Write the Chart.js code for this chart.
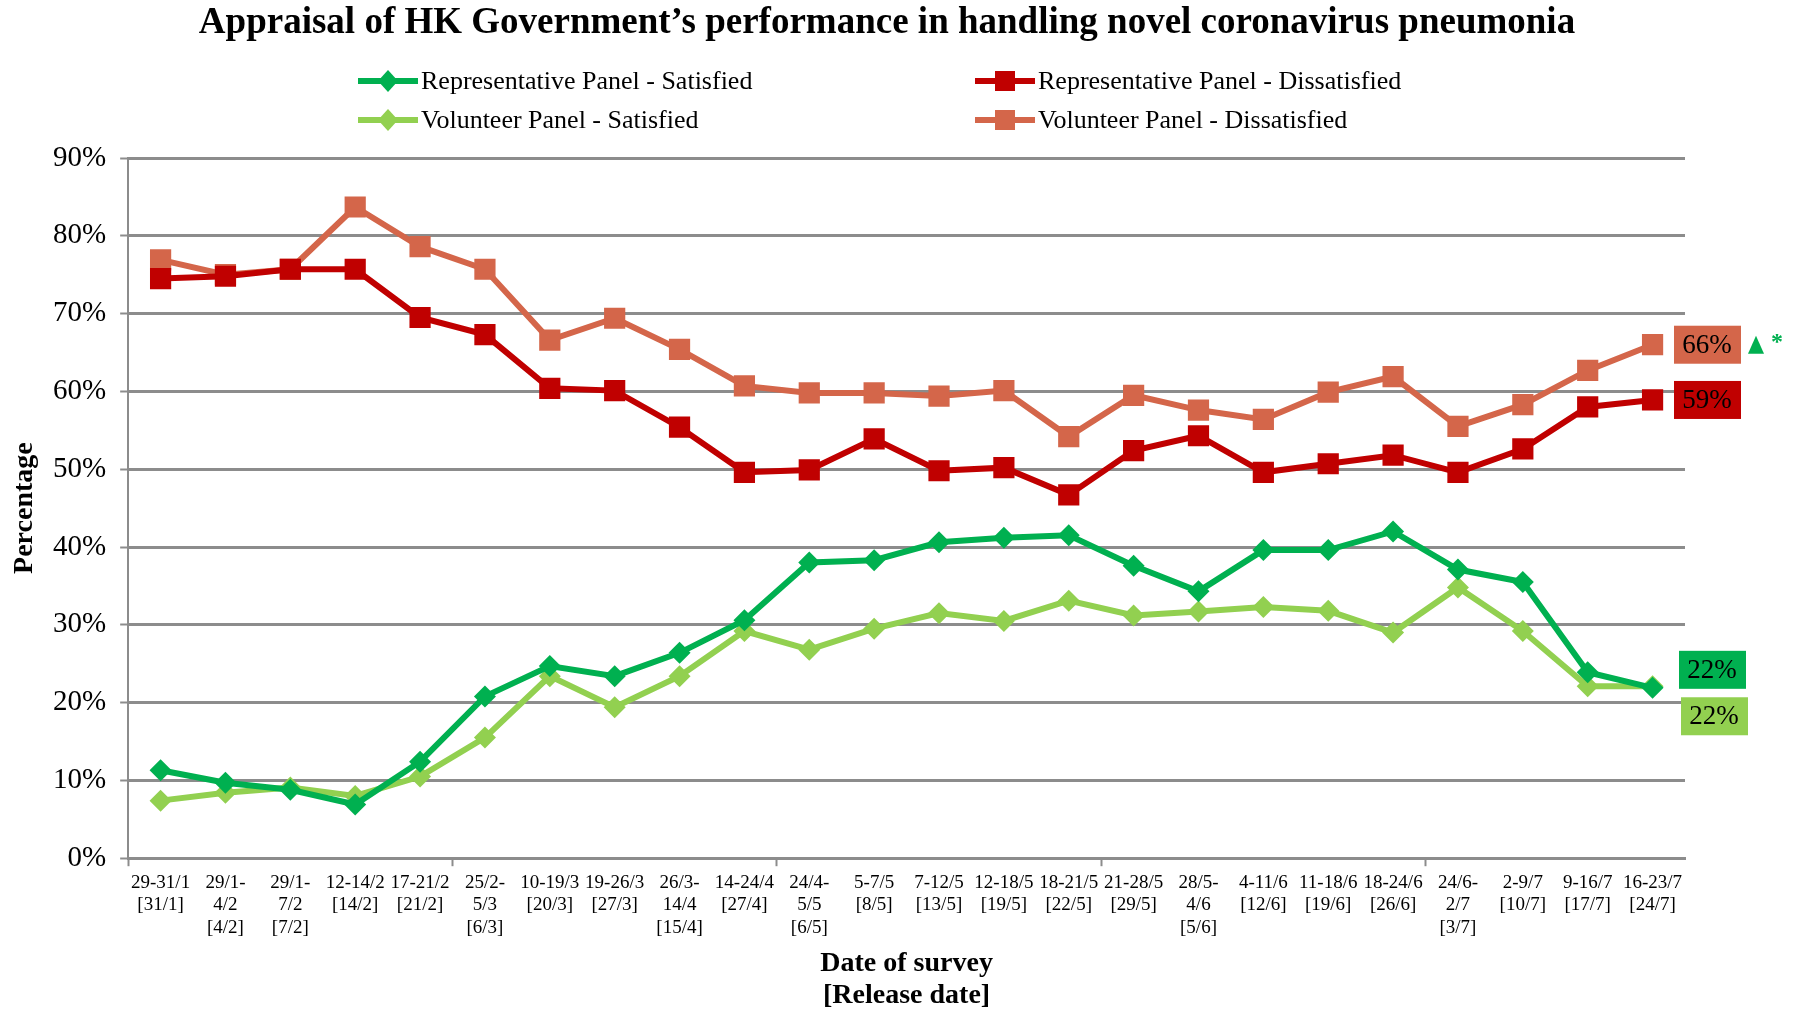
<!DOCTYPE html>
<html>
<head>
<meta charset="utf-8">
<title>Appraisal of HK Government's performance</title>
<script src="https://cdn.jsdelivr.net/npm/chart.js@4.4.0/dist/chart.umd.min.js"></script>
<style>
  html, body { margin: 0; padding: 0; background: #fff; }
  #wrap { width: 1795px; height: 1013px; position: relative; }
</style>
</head>
<body>
<div id="wrap"><canvas id="pollChart"></canvas></div>
<script>
// ── Data ────────────────────────────────────────────────────────
const dateLabels = [
  ['29-31/1', '[31/1]'], ['29/1-', '4/2', '[4/2]'], ['29/1-', '7/2', '[7/2]'],
  ['12-14/2', '[14/2]'], ['17-21/2', '[21/2]'], ['25/2-', '5/3', '[6/3]'],
  ['10-19/3', '[20/3]'], ['19-26/3', '[27/3]'], ['26/3-', '14/4', '[15/4]'],
  ['14-24/4', '[27/4]'], ['24/4-', '5/5', '[6/5]'], ['5-7/5', '[8/5]'],
  ['7-12/5', '[13/5]'], ['12-18/5', '[19/5]'], ['18-21/5', '[22/5]'],
  ['21-28/5', '[29/5]'], ['28/5-', '4/6', '[5/6]'], ['4-11/6', '[12/6]'],
  ['11-18/6', '[19/6]'], ['18-24/6', '[26/6]'], ['24/6-', '2/7', '[3/7]'],
  ['2-9/7', '[10/7]'], ['9-16/7', '[17/7]'], ['16-23/7', '[24/7]']
];

const repSatisfied    = [11.3, 9.7, 8.8, 6.9, 12.4, 20.8, 24.7, 23.4, 26.4, 30.6, 38.0, 38.3, 40.6, 41.2, 41.5, 37.6, 34.3, 39.6, 39.6, 42.0, 37.1, 35.5, 23.9, 21.9];
const volSatisfied    = [7.4, 8.4, 9.1, 8.0, 10.5, 15.5, 23.4, 19.4, 23.4, 29.2, 26.8, 29.5, 31.5, 30.5, 33.1, 31.2, 31.7, 32.3, 31.8, 29.0, 34.8, 29.2, 22.1, 22.1];
const repDissatisfied = [74.5, 74.8, 75.7, 75.7, 69.5, 67.3, 60.4, 60.1, 55.4, 49.6, 49.9, 53.9, 49.8, 50.2, 46.7, 52.4, 54.3, 49.6, 50.7, 51.8, 49.6, 52.6, 58.0, 58.9];
const volDissatisfied = [76.9, 75.0, 75.7, 83.7, 78.6, 75.7, 66.6, 69.4, 65.4, 60.7, 59.8, 59.8, 59.4, 60.1, 54.2, 59.5, 57.6, 56.4, 59.9, 61.9, 55.5, 58.3, 62.7, 66.0];

const seriesNames = [
  'Representative Panel - Satisfied',
  'Volunteer Panel - Satisfied',
  'Representative Panel - Dissatisfied',
  'Volunteer Panel - Dissatisfied'
];
const endLabels = ['22%', '22%', '59%', '66%'];
const chartTitle = 'Appraisal of HK Government\u2019s performance in handling novel coronavirus pneumonia';

const Y_MIN = 0, Y_MAX = 90, Y_STEP = 10;

// ── Styling ─────────────────────────────────────────────────────
const SERIF = "'Liberation Serif', 'Times New Roman', serif";
const GRID = '#8c8c8c';
const colors = ['#00b050', '#92d050', '#c00000', '#d4664a'];
const shapes = ['rectRot', 'rectRot', 'rect', 'rect'];

Chart.defaults.font.family = SERIF;
Chart.defaults.color = '#000';

function marker(ctx, shape, x, y, color) {
  ctx.save();
  ctx.fillStyle = color;
  ctx.beginPath();
  if (shape === 'rect') {
    ctx.rect(x - 10, y - 10, 20, 20);
  } else {
    ctx.moveTo(x, y - 11); ctx.lineTo(x + 10, y); ctx.lineTo(x, y + 11); ctx.lineTo(x - 10, y);
    ctx.closePath();
  }
  ctx.fill();
  ctx.restore();
}

// title + two-column legend (line + marker + text), Excel style
const headerPlugin = {
  id: 'excelHeader',
  afterDraw(chart) {
    const ctx = chart.ctx;
    ctx.save();
    ctx.fillStyle = '#000';
    ctx.textAlign = 'center';
    ctx.textBaseline = 'middle';
    ctx.font = 'bold 37px ' + SERIF;
    ctx.fillText(chartTitle, 887, 23);

    const cols = [358, 975];
    const rows = [81, 120];
    ctx.textAlign = 'left';
    ctx.font = '26px ' + SERIF;
    seriesNames.forEach((name, i) => {
      const x = cols[i < 2 ? 0 : 1];
      const y = rows[i % 2];
      ctx.strokeStyle = colors[i];
      ctx.lineWidth = 6;
      ctx.beginPath(); ctx.moveTo(x, y); ctx.lineTo(x + 60, y); ctx.stroke();
      marker(ctx, shapes[i], x + 30, y, colors[i]);
      ctx.fillStyle = '#000';
      ctx.fillText(name, x + 63, y + 1);
    });
    ctx.restore();
  }
};

// value boxes at the right end of each line
const endLabelPlugin = {
  id: 'endLabels',
  afterDatasetsDraw(chart) {
    const ctx = chart.ctx;
    const area = chart.chartArea;
    const yScale = chart.scales.y;
    const offsets = [-18, 30, 0, 0];
    const shiftX = [-6, -4, -11, -11];
    ctx.save();
    ctx.font = '27px ' + SERIF;
    ctx.textAlign = 'center';
    ctx.textBaseline = 'middle';
    chart.data.datasets.forEach((ds, i) => {
      const last = ds.data[ds.data.length - 1];
      const cy = yScale.getPixelForValue(last) + offsets[i];
      const bx = area.right + shiftX[i];
      ctx.fillStyle = colors[i];
      ctx.fillRect(bx, cy - 19, 67, 38);
      ctx.fillStyle = '#000';
      ctx.fillText(endLabels[i], bx + 33, cy + 1);
    });
    // significance marker next to the 66% box
    const ty = yScale.getPixelForValue(volDissatisfied[volDissatisfied.length - 1]);
    const tx = area.right + 63;
    ctx.fillStyle = '#00b050';
    ctx.beginPath();
    ctx.moveTo(tx + 8, ty - 9); ctx.lineTo(tx + 16, ty + 9); ctx.lineTo(tx, ty + 9);
    ctx.closePath(); ctx.fill();
    ctx.font = 'bold 24px ' + SERIF;
    ctx.textAlign = 'left';
    ctx.fillText('*', tx + 23, ty - 2);
    ctx.restore();
  }
};

new Chart(document.getElementById('pollChart'), {
  type: 'line',
  data: {
    labels: dateLabels,
    datasets: [
      { label: seriesNames[0], data: repSatisfied },
      { label: seriesNames[1], data: volSatisfied },
      { label: seriesNames[2], data: repDissatisfied },
      { label: seriesNames[3], data: volDissatisfied }
    ].map((d, i) => Object.assign(d, {
      borderColor: colors[i],
      backgroundColor: colors[i],
      borderWidth: 6,
      pointStyle: shapes[i],
      pointRadius: shapes[i] === 'rect' ? 15 : 11,
      pointBorderWidth: 0,
      tension: 0,
      fill: false
    }))
  },
  options: {
    responsive: true,
    maintainAspectRatio: false,
    animation: false,
    layout: { padding: { left: 0, right: 110, top: 158, bottom: 0 } },
    plugins: {
      legend: { display: false },
      tooltip: { enabled: false },
      title: { display: false }
    },
    scales: {
      x: {
        offset: true,
        grid: {
          offset: true,
          drawOnChartArea: false,
          drawTicks: true,
          tickLength: 8,
          tickWidth: 2,
          color: c => (c.index !== undefined && c.index % 5 === 0) ? GRID : 'rgba(0,0,0,0)'
        },
        border: { display: true, color: GRID, width: 3 },
        ticks: {
          autoSkip: false,
          maxRotation: 0,
          minRotation: 0,
          padding: 5,
          font: { size: 19, lineHeight: 1.2 },
          color: '#000'
        },
        title: {
          display: true,
          text: ['Date of survey', '[Release date]'],
          font: { size: 28, weight: 'bold', lineHeight: 1.15 },
          color: '#000',
          padding: { top: 3, bottom: 1 }
        }
      },
      y: {
        min: Y_MIN,
        max: Y_MAX,
        ticks: {
          stepSize: Y_STEP,
          padding: 14,
          font: { size: 29 },
          color: '#000',
          callback: v => v + '%'
        },
        grid: { color: GRID, lineWidth: 3, tickLength: 8, tickWidth: 2 },
        border: { display: true, color: GRID, width: 2 },
        title: {
          display: true,
          text: 'Percentage',
          font: { size: 28, weight: 'bold', lineHeight: 1.0 },
          color: '#000',
          padding: { top: 11, bottom: 0 }
        }
      }
    }
  },
  plugins: [headerPlugin, endLabelPlugin]
});
</script>
</body>
</html>
